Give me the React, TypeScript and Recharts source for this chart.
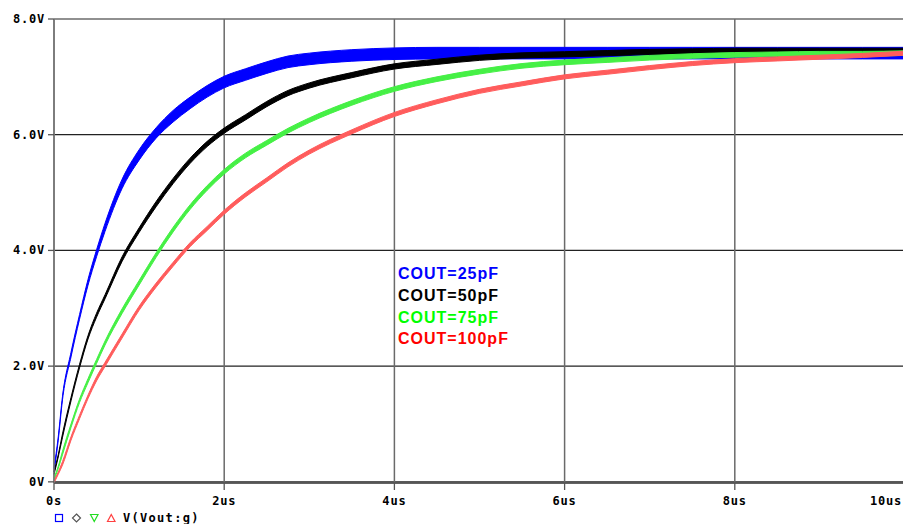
import {
  ComposedChart,
  Area,
  XAxis,
  YAxis,
  CartesianGrid,
} from 'recharts'

// transient sweep, time in us
const times = [
  0, 0.05, 0.1, 0.2, 0.3, 0.4, 0.5, 0.6, 0.8, 1.0, 1.2, 1.4, 1.6, 1.8, 2.0, 2.25, 2.5,
  2.75, 3.0, 3.5, 4.0, 4.5, 5.0, 5.5, 6.0, 6.5, 7.0, 7.5, 8.0, 8.5, 9.0, 9.5, 10.0,
]

// V(Vout:g) for each output capacitor
const cout25 = [
  0.2, 0.75, 1.45, 2.2, 2.85, 3.45, 3.95, 4.4, 5.15, 5.65, 6.03, 6.32, 6.55, 6.75, 6.91, 7.04,
  7.16, 7.26, 7.31, 7.37, 7.4, 7.41, 7.41, 7.41, 7.41, 7.41, 7.41, 7.41, 7.41, 7.41, 7.41,
  7.41, 7.41,
]
const cout50 = [
  0.15, 0.45, 0.8, 1.43, 2.0, 2.5, 2.88, 3.2, 3.85, 4.35, 4.8, 5.2, 5.55, 5.84, 6.07, 6.3,
  6.53, 6.72, 6.85, 7.03, 7.18, 7.26, 7.33, 7.37, 7.39, 7.41, 7.43, 7.44, 7.45, 7.45, 7.45,
  7.45, 7.45,
]
const cout75 = [
  0.05, 0.25, 0.5, 0.97, 1.4, 1.75, 2.08, 2.4, 2.95, 3.44, 3.92, 4.36, 4.75, 5.08, 5.36, 5.64,
  5.86, 6.07, 6.25, 6.55, 6.79, 6.96, 7.09, 7.19, 7.25, 7.29, 7.33, 7.36, 7.38, 7.39, 7.4,
  7.4, 7.41,
]
const cout100 = [
  0, 0.15, 0.32, 0.75, 1.12, 1.47, 1.78, 2.03, 2.52, 3.0, 3.4, 3.76, 4.1, 4.38, 4.66, 4.96,
  5.22, 5.48, 5.7, 6.05, 6.35, 6.57, 6.75, 6.88, 7.0, 7.08, 7.16, 7.23, 7.28, 7.31, 7.34,
  7.37, 7.41,
]

// half height of the ripple band around each trace, volts
const ripple25 = [
  0.03, 0.03, 0.03, 0.04, 0.04, 0.05, 0.06, 0.07, 0.08, 0.09, 0.09, 0.1, 0.1, 0.1, 0.1, 0.1,
  0.1, 0.1, 0.1, 0.1, 0.1, 0.1, 0.1, 0.1, 0.1, 0.1, 0.1, 0.1, 0.1, 0.1, 0.1, 0.1, 0.1,
]
const ripple50 = [
  0.02, 0.02, 0.03, 0.03, 0.03, 0.03, 0.035, 0.035, 0.04, 0.04, 0.045, 0.045, 0.045, 0.045,
  0.045, 0.045, 0.045, 0.045, 0.045, 0.045, 0.045, 0.045, 0.045, 0.045, 0.045, 0.045, 0.045,
  0.045, 0.045, 0.045, 0.045, 0.045, 0.045,
]
const ripple75 = [
  0.02, 0.02, 0.03, 0.03, 0.03, 0.035, 0.035, 0.035, 0.04, 0.04, 0.04, 0.04, 0.04, 0.04, 0.04,
  0.04, 0.04, 0.04, 0.04, 0.04, 0.04, 0.04, 0.04, 0.04, 0.04, 0.04, 0.04, 0.04, 0.04, 0.04,
  0.04, 0.04, 0.04,
]
const ripple100 = [
  0.02, 0.02, 0.03, 0.03, 0.03, 0.03, 0.035, 0.035, 0.035, 0.035, 0.035, 0.035, 0.035, 0.035,
  0.035, 0.035, 0.035, 0.035, 0.035, 0.035, 0.035, 0.035, 0.035, 0.035, 0.035, 0.035, 0.035,
  0.035, 0.035, 0.035, 0.035, 0.035, 0.035,
]

const xTicks = [0, 2, 4, 6, 8, 10]
const xTickLabels = ['0s', '2us', '4us', '6us', '8us', '10us']
const yTicks = [0, 2, 4, 6, 8]
const yTickLabels = ['0V', '2.0V', '4.0V', '6.0V', '8.0V']

const seriesNames = ['COUT=25pF', 'COUT=50pF', 'COUT=75pF', 'COUT=100pF']
const traceColors = ['#0000ff', '#000000', '#45f045', '#ff5c5c']
const labelColors = ['#0000ff', '#000000', '#00ff00', '#ff0000']

const band = (v: number[], r: number[], i: number) => [v[i] - r[i], v[i] + r[i]]

const rows = times.map((t, i) => ({
  t,
  c25: band(cout25, ripple25, i),
  c50: band(cout50, ripple50, i),
  c75: band(cout75, ripple75, i),
  c100: band(cout100, ripple100, i),
}))

const keys = ['c25', 'c50', 'c75', 'c100']

const tickFont = {
  fontFamily: '"DejaVu Sans Mono", monospace',
  fontWeight: 700,
  fontSize: 12,
  letterSpacing: 0.8,
}

function YTick(props: any) {
  const { x, y, index } = props
  return (
    <text x={x} y={y + 4} textAnchor="end" fill="#000" style={tickFont}>
      {yTickLabels[index]}
    </text>
  )
}

function XTick(props: any) {
  const { x, y, index } = props
  const last = index === xTickLabels.length - 1
  return (
    <text
      x={last ? 902 : x}
      y={y + 15}
      textAnchor={last ? 'end' : 'middle'}
      fill="#000"
      style={tickFont}
    >
      {xTickLabels[index]}
    </text>
  )
}

export default function App() {
  return (
    <div
      style={{
        position: 'fixed',
        top: 0,
        left: 0,
        width: 903,
        height: 524,
        overflow: 'hidden',
        background: '#fff',
      }}
    >
      <ComposedChart
        width={910}
        height={524}
        data={rows}
        margin={{ top: 19, right: 5, bottom: 0, left: 0 }}
      >
        <CartesianGrid vertical={false} stroke="#222" strokeWidth={1.2} />
        <CartesianGrid horizontal={false} stroke="#6a6a6a" strokeWidth={1.5} />
        <XAxis
          type="number"
          dataKey="t"
          domain={[0, 10]}
          ticks={xTicks}
          height={41}
          tickSize={7}
          tickMargin={0}
          axisLine={{ stroke: '#555', strokeWidth: 1.3 }}
          tickLine={{ stroke: '#555', strokeWidth: 1.3 }}
          tick={<XTick />}
          interval={0}
        />
        <YAxis
          type="number"
          domain={[0, 8]}
          ticks={yTicks}
          width={54}
          tickSize={6}
          tickMargin={3}
          axisLine={{ stroke: '#777', strokeWidth: 1.5 }}
          tickLine={{ stroke: '#555', strokeWidth: 1.3 }}
          tick={<YTick />}
          interval={0}
        />
        {keys.map((k, i) => (
          <Area
            key={k}
            type="monotone"
            dataKey={k}
            stroke={traceColors[i]}
            strokeWidth={1}
            fill={traceColors[i]}
            fillOpacity={1}
            dot={false}
            activeDot={false}
            isAnimationActive={false}
          />
        ))}
      </ComposedChart>
      <svg
        width={903}
        height={524}
        style={{ position: 'absolute', top: 0, left: 0, pointerEvents: 'none' }}
      >
        {seriesNames.map((name, i) => (
          <text
            key={name}
            x={398}
            y={279 + i * 21.8}
            fill={labelColors[i]}
            style={{
              fontFamily: '"Liberation Sans", Arial, sans-serif',
              fontWeight: 700,
              fontSize: 16,
              letterSpacing: 1,
            }}
          >
            {name}
          </text>
        ))}
        {/* trace markers and expression under the time axis */}
        <rect x={55.5} y={514.5} width={7} height={7} fill="none" stroke="#0000ff" strokeWidth={1.2} />
        <path d="M76.5 514 L80.5 518 L76.5 522 L72.5 518 Z" fill="none" stroke="#555" strokeWidth={1.2} />
        <path d="M90.5 514.5 L98 514.5 L94.25 521.5 Z" fill="none" stroke="#22dd22" strokeWidth={1.2} />
        <path d="M107.5 521.5 L115 521.5 L111.25 514.5 Z" fill="none" stroke="#ff4040" strokeWidth={1.2} />
        <text x={123} y={522} fill="#000" style={{ ...tickFont, letterSpacing: 1.3 }}>
          V(Vout:g)
        </text>
      </svg>
    </div>
  )
}
